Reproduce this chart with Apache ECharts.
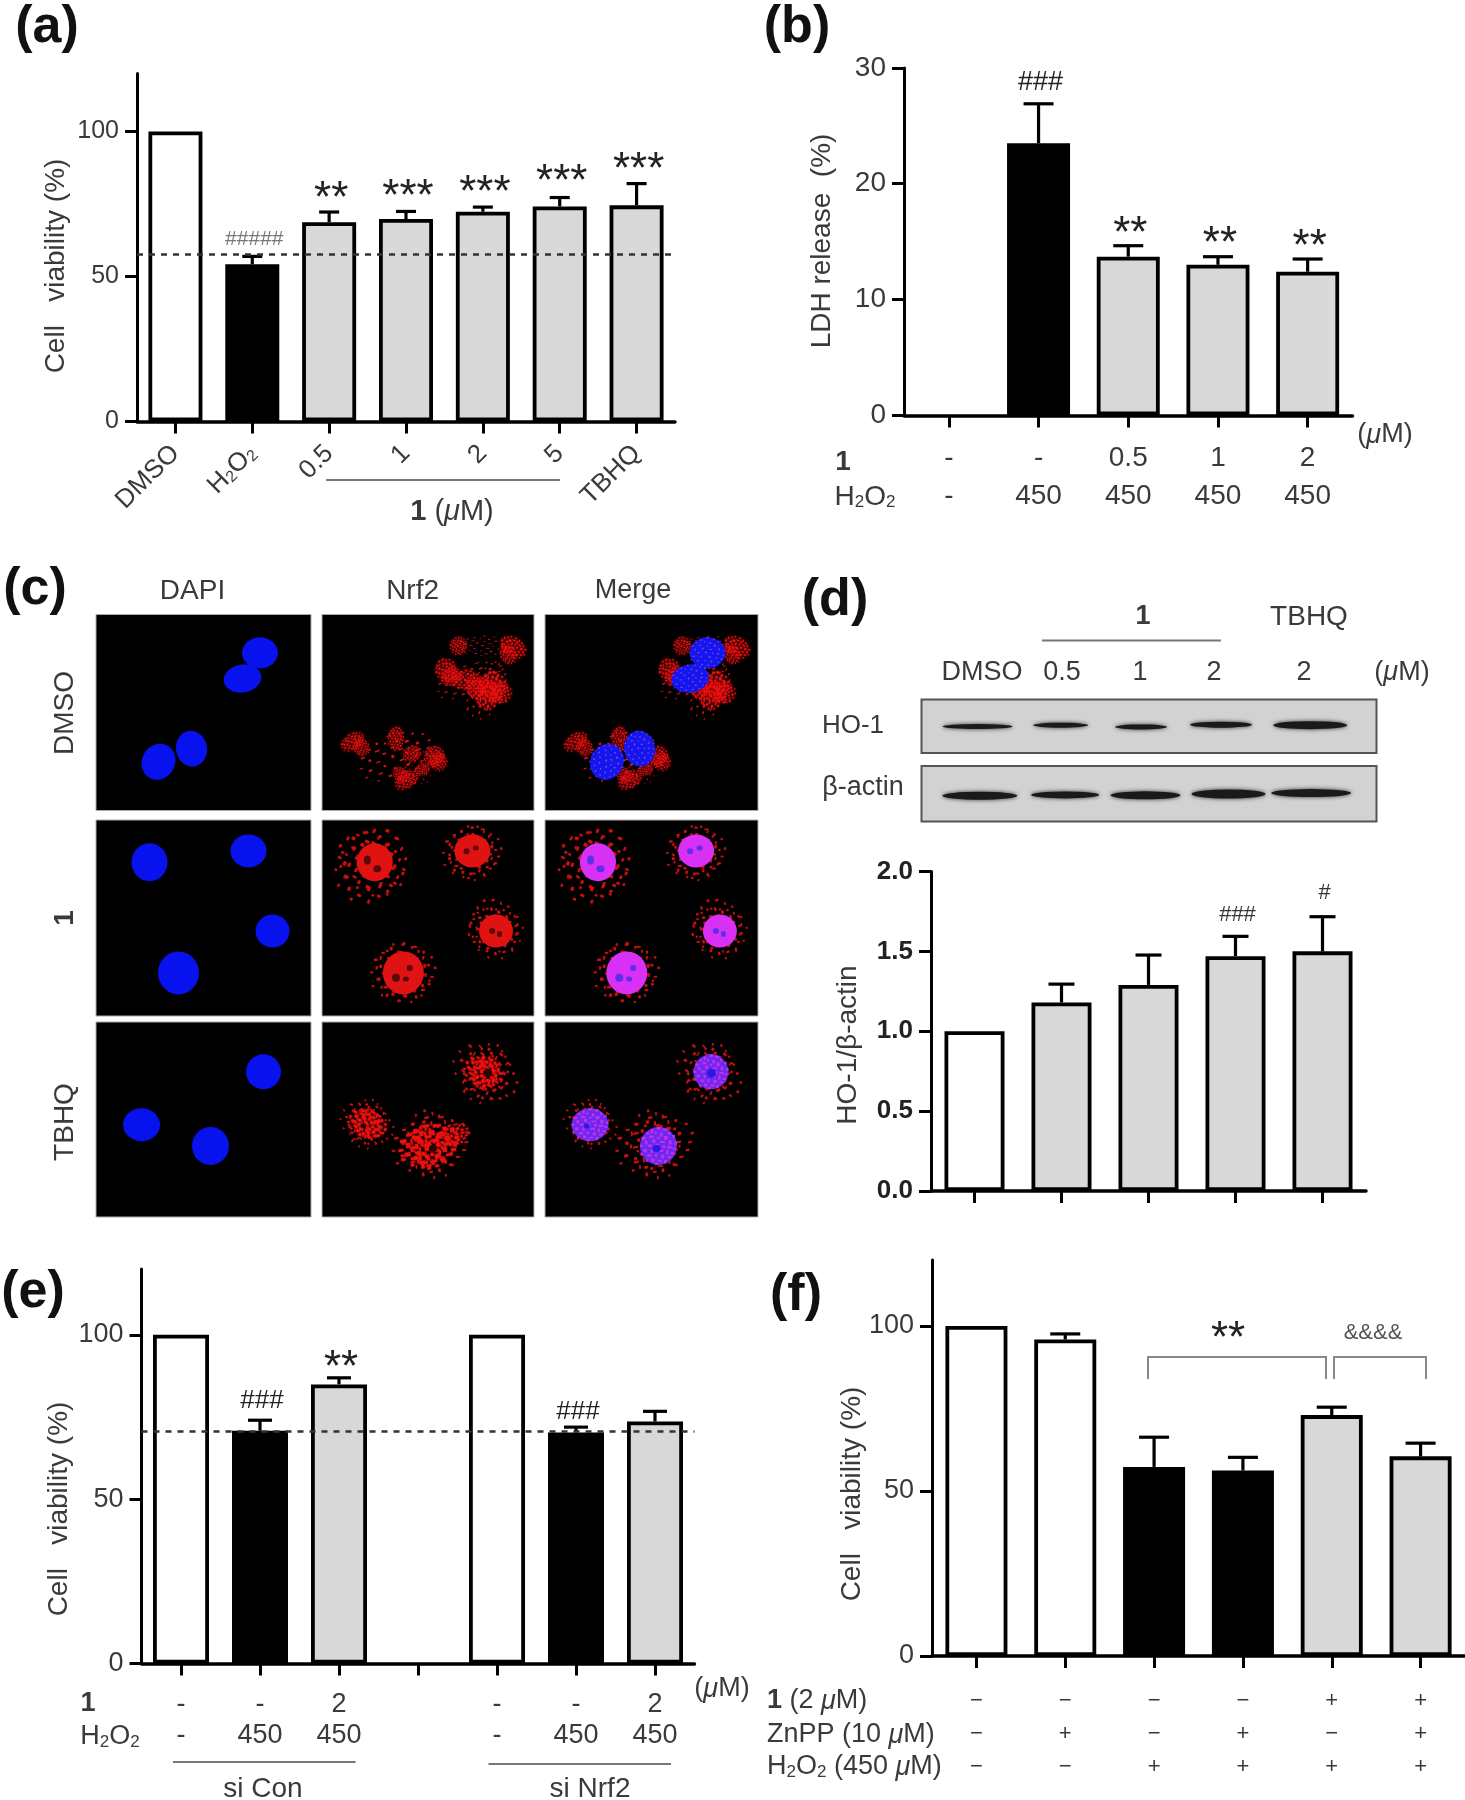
<!DOCTYPE html>
<html><head><meta charset="utf-8">
<style>html,body{margin:0;padding:0;background:#fff}#c{width:1465px;height:1800px}</style>
<script src="https://cdn.jsdelivr.net/npm/echarts@6/dist/echarts.min.js"></script>
</head><body><div id="c"></div>
<script>
// ---------- chart data ----------
const catsA = ['DMSO','H2O2','0.5','1','2','5','TBHQ'];
const valsA = [100,54.2,68.7,69.8,72.3,74.1,74.5];
const topsA = [null,56.9,72.2,72.4,73.9,77.2,82];
const kindA = ['ctrl','injury','treat','treat','treat','treat','treat'];
const hashA = ['','#####','','','','',''];
const starA = ['','','**','***','***','***','***'];
const markYA = [null,62.9,78.8,79.4,81,84.7,88.9];
const ticksA = [0,50,100];
const refA = 57.5;

const cmpdB = ['-','-','0.5','1','2'];
const h2o2B = ['-','450','450','450','450'];
const valsB = [0,23.5,13.7,13,12.4];
const topsB = [null,26.9,14.65,13.7,13.5];
const kindB = ['ctrl','injury','treat','treat','treat'];
const hashB = ['','###','','',''];
const starB = ['','','**','**','**'];
const markYB = [null,28.7,16.2,15.3,15.06];
const ticksB = [0,10,20,30];

const catsD = ['DMSO','0.5','1','2','TBHQ 2'];
const valsD = [1,1.18,1.29,1.47,1.5];
const topsD = [null,1.295,1.477,1.594,1.717];
const kindD = ['ctrl','treat','treat','treat','treat'];
const hashD = ['','','','###','#'];
const starD = ['','','','',''];
const markYD = [null,null,null,1.725,1.865];
const ticksD = [0,0.5,1,1.5,2];

const cmpdE = ['-','-','2',' ','-','-','2'];
const h2o2E = ['-','450','450',' ','-','450','450'];
const valsE = [100,70.8,84.9,null,100,70.3,73.6];
const topsE = [null,74,86.9,null,null,71.9,76.7];
const kindE = ['ctrl','injury','treat','ctrl','ctrl','injury','treat'];
const hashE = ['','###','','','','###',''];
const starE = ['','','**','','','',''];
const markYE = [null,79.8,91.8,null,null,76.7,null];
const ticksE = [0,50,100];
const refE = 70.6;

const cmpdF = ['−','−','−','−','+','+'];
const znppF = ['−','+','−','+','−','+'];
const h2o2F = ['−','−','+','+','+','+'];
const valsF = [100,95.9,57.3,56.2,73,60.5];
const topsF = [null,97.6,66.3,60.2,75.4,64.5];
const kindF = ['ctrl','ctrl','injury','injury','treat','treat'];
const ticksF = [0,50,100];

// ---------- micrograph and blot content ----------
const nucleiRow1 = [[328,88,36,31,0],[293,147,38,28,10],[191,308,31,36,10],[125,338,33,37,-30]];
const nucleiRow2 = [[107,97,36,38,0],[305,71,36,33,0],[353,255,34,33,0],[165,351,41,43,0]];
const nucleiRow3 = [[335,115,35,35,0],[91,237,37,33,0],[229,286,37,38,0]];
const redRow1 = [[277,72,18,18,20],[388,75,20,28,60],[378,92,20,16,110],[252,128,22,24,40],[262,142,20,18,200],[345,165,28,30,10],[335,185,30,24,80],[362,180,22,22,150],[292,150,26,20,0],[312,168,22,20,90],[62,292,26,16,30],[80,305,18,16,120],[150,285,16,24,0],[228,325,20,20,0],[236,338,18,18,70],[172,380,26,16,30],[160,368,18,14,130],[182,320,18,16,0],[205,355,14,12,40]];
const haloRow1 = [[330,72,56,20,0],[300,150,70,30,20],[335,175,60,36,60],[150,325,76,44,20],[195,345,40,26,100]];
const haloRow2 = [[100,105,66,80,-25],[100,100,58,74,60],[305,75,60,52,0],[305,75,54,50,70],[350,250,48,62,20],[352,252,46,56,100],[165,350,66,58,0],[165,350,60,56,80]];
const haloRow3 = [[332,118,70,50,-40],[332,118,62,44,60],[92,235,56,40,-30],[92,235,50,38,70],[222,282,80,56,10],[222,282,70,50,95]];
const coreRow3 = [[327,115,40,30,-30],[332,118,34,26,70],[92,235,40,28,-25],[92,235,30,26,80],[217,285,62,42,10],[212,290,44,32,100],[265,262,34,22,20]];
const holesRow2 = [[92,92,7,9,0],[112,112,8,7,0],[293,72,6,6,0],[312,64,6,5,0],[345,255,6,6,0],[360,262,5,6,0],[150,362,8,8,0],[178,340,6,6,0],[170,365,6,5,0]];
const holesRow3 = [[336,118,9,9,0],[84,240,6,5,0],[225,292,8,7,0]];
const bandsHO1 = [[127,62,70,5],[315,59,55,5],[497,63,52,5],[678,58,62,6],[880,59,74,8]];
const bandsActin = [[132,66,75,8],[325,64,68,7],[507,65,70,8],[695,62,74,9],[882,60,80,8]];
const speckShape = [[47,3,9,6],[31,9,6,9],[63,7,11,5],[19,17,8,5],[41,15,5,7],[55,18,7,9],[77,15,5,8],[8,28,9,7],[27,25,11,6],[48,29,6,5],[66,26,9,9],[88,24,6,6],[16,38,6,9],[35,35,8,8],[55,39,12,5],[78,37,7,10],[93,41,6,7],[3,49,7,5],[24,48,10,6],[44,46,7,11],[62,50,6,7],[74,52,11,6],[88,56,8,5],[12,59,8,8],[31,60,6,9],[52,61,11,6],[71,63,6,9],[84,68,7,6],[5,71,6,5],[22,73,10,6],[42,72,6,8],[58,74,8,9],[75,78,9,5],[33,84,7,8],[49,87,10,5],[66,88,6,8],[18,86,5,6],[42,95,7,5]];

// ---------- helpers ----------
const FF = '"Liberation Sans", Arial, sans-serif';
const TXT = '#3a3a3a';
const FILL = {ctrl:'#ffffff', injury:'#000000', treat:'#d8d8d8'};
const grids = [], xAxes = [], yAxes = [], series = [], gfx = [];

function speckPath(pts, k){
  return 'path://' + pts.map(p => `M${p[0]} ${p[1]}h${p[2]*k}v${p[3]*k}h-${p[2]*k}Z`).join('');
}
const SPECK_DENSE = speckPath(speckShape, 1.1);
const SPECK_SPARSE = speckPath(speckShape, 0.55);
const baseRich = fs => ({
  s:{fontSize:Math.round(fs*0.62),fontFamily:FF,color:TXT,verticalAlign:'bottom',lineHeight:fs},
  n:{fontSize:fs,fontFamily:FF,color:TXT,lineHeight:fs},
  i:{fontSize:fs,fontFamily:FF,fontStyle:'italic',color:TXT,lineHeight:fs},
  b:{fontSize:fs,fontFamily:FF,fontWeight:'bold',color:'#111',lineHeight:fs}
});
function T(text,x,y,o={}){
  const fs=o.fs||27;
  gfx.push({type:'text',x,y,rotation:o.rot||0,silent:true,z:20,style:{text,fontSize:fs,fontFamily:FF,fontWeight:o.w||'normal',
    fill:o.c||TXT,align:o.al||'center',verticalAlign:'middle',rich:baseRich(fs)}});
}
function L(x1,y1,x2,y2,c='#777',w=2){
  gfx.push({type:'line',silent:true,z:20,shape:{x1,y1,x2,y2},style:{stroke:c,lineWidth:w}});
}
function PL(points,c='#777',w=2){
  gfx.push({type:'polyline',silent:true,z:20,shape:{points},style:{stroke:c,lineWidth:w,fill:null}});
}

function barPanel(p){
  const g=grids.length;
  grids.push({left:p.left,top:p.top,width:p.width,height:p.height,containLabel:false});
  xAxes.push({gridIndex:g,type:'category',data:p.cats,boundaryGap:true,
    axisLine:{show:true,onZero:false,lineStyle:{color:'#000',width:3.5}},
    axisTick:{show:true,alignWithLabel:true,length:12,lineStyle:{color:'#000',width:3}},
    axisLabel:Object.assign({show:!!p.xfmt,interval:0,fontSize:p.xfs||26,fontFamily:FF,color:TXT,margin:p.xmargin||20,
      lineHeight:p.xlh,rotate:p.xrot||0,formatter:p.xfmt,hideOverlap:false},p.xrich?{rich:p.xrich}:{})});
  yAxes.push({gridIndex:g,type:'value',min:0,max:p.max,
    splitLine:{show:false},
    axisLine:{show:true,lineStyle:{color:'#000',width:3}},
    axisTick:{show:true,length:12,lineStyle:{color:'#000',width:3},customValues:p.ticks},
    axisLabel:{fontSize:p.yfs||25,fontFamily:FF,color:p.ylc||TXT,fontWeight:p.yw||'normal',margin:18,padding:[4,0,0,0],customValues:p.ticks,
      formatter:p.yfmt||(v=>String(v))}});
  const bar={type:'bar',xAxisIndex:g,yAxisIndex:g,barWidth:p.barW,silent:true,z:3,
    data:p.vals.map((v,i)=>({value:v,itemStyle:{color:FILL[p.kinds[i]],borderColor:'#000',borderWidth:v?3.8:0}}))};
  if(p.ref!=null){
    bar.markLine={silent:true,symbol:'none',z:6,animation:false,label:{show:false},
      lineStyle:{type:[6,6],color:'#333',width:2.5},data:[{yAxis:p.ref}]};
  }
  const capHalf=p.cap;
  series.push({type:'custom',xAxisIndex:g,yAxisIndex:g,silent:true,z:2,clip:false,
    data:p.tops.map((t,i)=>[i,t,p.vals[i]]).filter(d=>d[1]!=null),
    encode:{x:0,y:1},
    renderItem:(params,api)=>{
      const a=api.coord([api.value(0),api.value(1)]), b=api.coord([api.value(0),api.value(2)]);
      const st={stroke:'#000',lineWidth:3.2};
      return {type:'group',children:[
        {type:'line',shape:{x1:a[0],y1:a[1],x2:b[0],y2:b[1]},style:st},
        {type:'line',shape:{x1:a[0]-capHalf,y1:a[1],x2:a[0]+capHalf,y2:a[1]},style:st}]};
    }});
  series.push(bar);
  const mark=(texts,fs,off,color)=>{
    const rows=texts.map((t,i)=>[i,p.markY?p.markY[i]:null,t]).filter(d=>d[2]&&d[1]!=null);
    if(!rows.length) return;
    series.push({type:'custom',xAxisIndex:g,yAxisIndex:g,silent:true,z:8,clip:false,
      data:rows.map(r=>[r[0],r[1]]),encode:{x:0,y:1},
      renderItem:(params,api)=>{
        const c=api.coord([api.value(0),api.value(1)]);
        return {type:'text',style:{text:rows[params.dataIndex][2],x:c[0]+2,y:c[1]+off,align:'center',verticalAlign:'middle',
          fontSize:fs,fontFamily:FF,fill:color}};
      }});
  };
  if(p.hash) mark(p.hash,p.hashFs||23,0,p.hashC||'#444');
  if(p.star) mark(p.star,p.starFs||44,Math.round((p.starFs||44)*0.17),'#222');
}

function imagePanel(rect,layers){
  const g=grids.length;
  grids.push({left:rect[0],top:rect[1],width:rect[2],height:rect[3],show:true,backgroundColor:'#000',borderColor:'#aaa',borderWidth:1});
  xAxes.push({gridIndex:g,type:'value',min:0,max:430,show:false});
  yAxes.push({gridIndex:g,type:'value',min:0,max:450,inverse:true,show:false});
  layers.forEach((l,k)=>series.push({type:'scatter',xAxisIndex:g,yAxisIndex:g,silent:true,z:3+k,clip:true,
    symbol:l.sym,data:l.data,symbolSize:d=>[d[2],d[3]],symbolRotate:d=>d[4],
    itemStyle:{color:l.c,opacity:1,shadowBlur:l.blur||0,shadowColor:l.c}}));
}
function blotPanel(rect,bands){
  const g=grids.length;
  grids.push({left:rect[0],top:rect[1],width:rect[2],height:rect[3],show:true,backgroundColor:'#d2d2d2',borderColor:'#555',borderWidth:2});
  xAxes.push({gridIndex:g,type:'value',min:0,max:1030,show:false});
  yAxes.push({gridIndex:g,type:'value',min:0,max:123,inverse:true,show:false});
  series.push({type:'scatter',xAxisIndex:g,yAxisIndex:g,silent:true,z:3,symbol:'circle',data:bands,
    symbolSize:d=>[d[2],d[3]],itemStyle:{color:'#1a1a1a',opacity:1,shadowBlur:4,shadowColor:'#333'}});
}

// ---------- panel (a) ----------
barPanel({left:137,top:73.4,width:538,height:348,cats:catsA,vals:valsA,tops:topsA,kinds:kindA,max:120,ticks:ticksA,
  barW:54,cap:10,ref:refA,hash:hashA,star:starA,markY:markYA,hashC:'#777',hashFs:21,
  xrot:45,xfs:26,xmargin:28,xfmt:v=>v==='H2O2'?'{n|H}{s|2}{n|O}{s|2}':v,xrich:baseRich(26)});
T('Cell   viability (%)',56,266,{fs:28,rot:Math.PI/2});
T('(a)',47,28,{fs:52,w:'bold',c:'#111'});
L(326,480,560,480);
T('{b|1} ({i|μ}M)',452,512,{fs:29});

// ---------- panel (b) ----------
barPanel({left:904,top:67.9,width:448.5,height:347.5,cats:cmpdB.map((c,i)=>c+'|'+h2o2B[i]+'|'+i),vals:valsB,tops:topsB,kinds:kindB,max:30,ticks:ticksB,
  yfs:28,barW:63,cap:15,hash:hashB,star:starB,markY:markYB,hashC:'#222',hashFs:27,
  xfs:28,xlh:38,xmargin:24,xfmt:v=>{const a=v.split('|');return a[0]+'\n'+a[1];}});
T('LDH release  (%)',822,241,{fs:28,rot:Math.PI/2});
T('(b)',797,28,{fs:52,w:'bold',c:'#111'});
T('({i|μ}M)',1385,435);
T('{b|1}',843,462,{fs:28});
T('{n|H}{s|2}{n|O}{s|2}',865,497,{fs:28});

// ---------- panel (c) ----------
const colX=[96,322,545], colW=[215,212,213];
const rowY=[614.5,820,1022], rowH=[196,196,195];
const BLUE='#0812ee', RED='#ee1010';
const spD=SPECK_DENSE, spS=SPECK_SPARSE;
imagePanel([colX[0],rowY[0],colW[0],rowH[0]],[{sym:'circle',data:nucleiRow1,c:BLUE}]);
imagePanel([colX[0],rowY[1],colW[0],rowH[1]],[{sym:'circle',data:nucleiRow2,c:BLUE}]);
imagePanel([colX[0],rowY[2],colW[0],rowH[2]],[{sym:'circle',data:nucleiRow3,c:BLUE}]);
imagePanel([colX[1],rowY[0],colW[1],rowH[0]],[{sym:spS,data:haloRow1,c:'#d81010'},{sym:spD,data:redRow1,c:RED,blur:3}]);
imagePanel([colX[1],rowY[1],colW[1],rowH[1]],[{sym:spS,data:haloRow2,c:'#c81010',blur:1},{sym:'circle',data:nucleiRow2,c:'#e01212'},{sym:'circle',data:holesRow2,c:'#5a0808'}]);
imagePanel([colX[1],rowY[2],colW[1],rowH[2]],[{sym:spS,data:haloRow3,c:'#c81010',blur:1},{sym:spD,data:coreRow3,c:RED,blur:2},{sym:'circle',data:holesRow3,c:'#300404'}]);
imagePanel([colX[2],rowY[0],colW[2],rowH[0]],[{sym:spS,data:haloRow1,c:'#d81010'},{sym:spD,data:redRow1,c:RED,blur:3},{sym:'circle',data:nucleiRow1,c:'#1416ee'},{sym:spS,data:nucleiRow1,c:'#8a40ee'}]);
imagePanel([colX[2],rowY[1],colW[2],rowH[1]],[{sym:spS,data:haloRow2,c:'#c81010',blur:1},{sym:'circle',data:nucleiRow2,c:'#d830f4'},{sym:'circle',data:holesRow2,c:'#5a30e8'}]);
imagePanel([colX[2],rowY[2],colW[2],rowH[2]],[{sym:spS,data:haloRow3,c:'#c81010',blur:1},{sym:'circle',data:nucleiRow3,c:'#6a28f0'},{sym:spD,data:nucleiRow3,c:'#c030e8'},{sym:'circle',data:holesRow3,c:'#2a18e8'}]);
T('(c)',35,590,{fs:52,w:'bold',c:'#111'});
T('DAPI',192.5,591,{fs:28}); T('Nrf2',412.6,591,{fs:28}); T('Merge',633,591,{fs:27});
T('DMSO',65.6,713,{rot:Math.PI/2,fs:28}); T('{b|1}',65.6,918,{rot:Math.PI/2,fs:28}); T('TBHQ',65.6,1122,{rot:Math.PI/2,fs:28});

// ---------- panel (d) ----------
blotPanel([921.5,699.5,455,53.5],bandsHO1);
blotPanel([921.5,766,455,55.5],bandsActin);
barPanel({left:931,top:871.5,width:435,height:319.5,cats:catsD,vals:valsD,tops:topsD,kinds:kindD,max:2,ticks:ticksD,
  yfs:26,yw:'bold',ylc:'#222',yfmt:v=>v.toFixed(1),barW:60,cap:13,hash:hashD,star:starD,markY:markYD,hashC:'#333',hashFs:22});
T('HO-1/β-actin',848,1045,{fs:28,rot:Math.PI/2});
T('(d)',835,601,{fs:52,w:'bold',c:'#111'});
T('{b|1}',1143,617); L(1042,640.6,1221,640.6); T('TBHQ',1309,617,{fs:28});
T('DMSO',982,672.5); T('0.5',1062,672.5); T('1',1140,672.5); T('2',1214,672.5); T('2',1304,672.5); T('({i|μ}M)',1402,672.5);
T('HO-1',853,725.6,{fs:26}); T('β-actin',863,788);

// ---------- panel (e) ----------
barPanel({left:141.5,top:1269,width:553,height:394.5,cats:cmpdE.map((c,i)=>c+'|'+h2o2E[i]+'|'+i),vals:valsE,tops:topsE,kinds:kindE,max:120,ticks:ticksE,
  yfs:27,barW:56,cap:12,ref:refE,hash:hashE,star:starE,markY:markYE,hashC:'#222',hashFs:26,
  xfs:27,xlh:31,xmargin:26,xfmt:v=>{const a=v.split('|');return a[0]+'\n'+a[1];}});
T('Cell   viability (%)',59,1509,{fs:28,rot:Math.PI/2});
T('(e)',33,1293,{fs:52,w:'bold',c:'#111'});
T('{b|1}',88,1704); T('{n|H}{s|2}{n|O}{s|2}',110,1737);
T('({i|μ}M)',722,1689);
L(173,1762,355.6,1762); L(488.5,1764,671,1764);
T('si Con',263,1789,{fs:28}); T('si Nrf2',590,1789,{fs:28});

// ---------- panel (f) ----------
barPanel({left:932,top:1260,width:533,height:396,cats:cmpdF.map((c,i)=>c+'|'+znppF[i]+'|'+h2o2F[i]+'|'+i),vals:valsF,tops:topsF,kinds:kindF,max:120,ticks:ticksF,
  yfs:27,barW:62,cap:15,
  xfs:22,xlh:33,xmargin:28,xfmt:v=>{const a=v.split('|');return a[0]+'\n'+a[1]+'\n'+a[2];}});
T('Cell   viability (%)',852,1494,{fs:28,rot:Math.PI/2});
T('(f)',796,1296,{fs:52,w:'bold',c:'#111'});
PL([[1148,1379],[1148,1357],[1326,1357],[1326,1379]],'#888',2);
PL([[1334,1379],[1334,1357],[1426,1357],[1426,1379]],'#888',2);
T('**',1228,1340,{fs:44,c:'#222'});
T('&&&&',1373,1333,{fs:22,c:'#555'});
T('{b|1} (2 {i|μ}M)',767,1701,{al:'left'});
T('ZnPP (10 {i|μ}M)',767,1735,{al:'left'});
T('{n|H}{s|2}{n|O}{s|2} (450 {i|μ}M)',767,1767,{al:'left'});

const chart=echarts.init(document.getElementById('c'),null,{renderer:'canvas',width:1465,height:1800});
chart.setOption({animation:false,backgroundColor:'#fff',tooltip:{show:false},grid:grids,xAxis:xAxes,yAxis:yAxes,series,graphic:{elements:gfx}});
</script></body></html>
